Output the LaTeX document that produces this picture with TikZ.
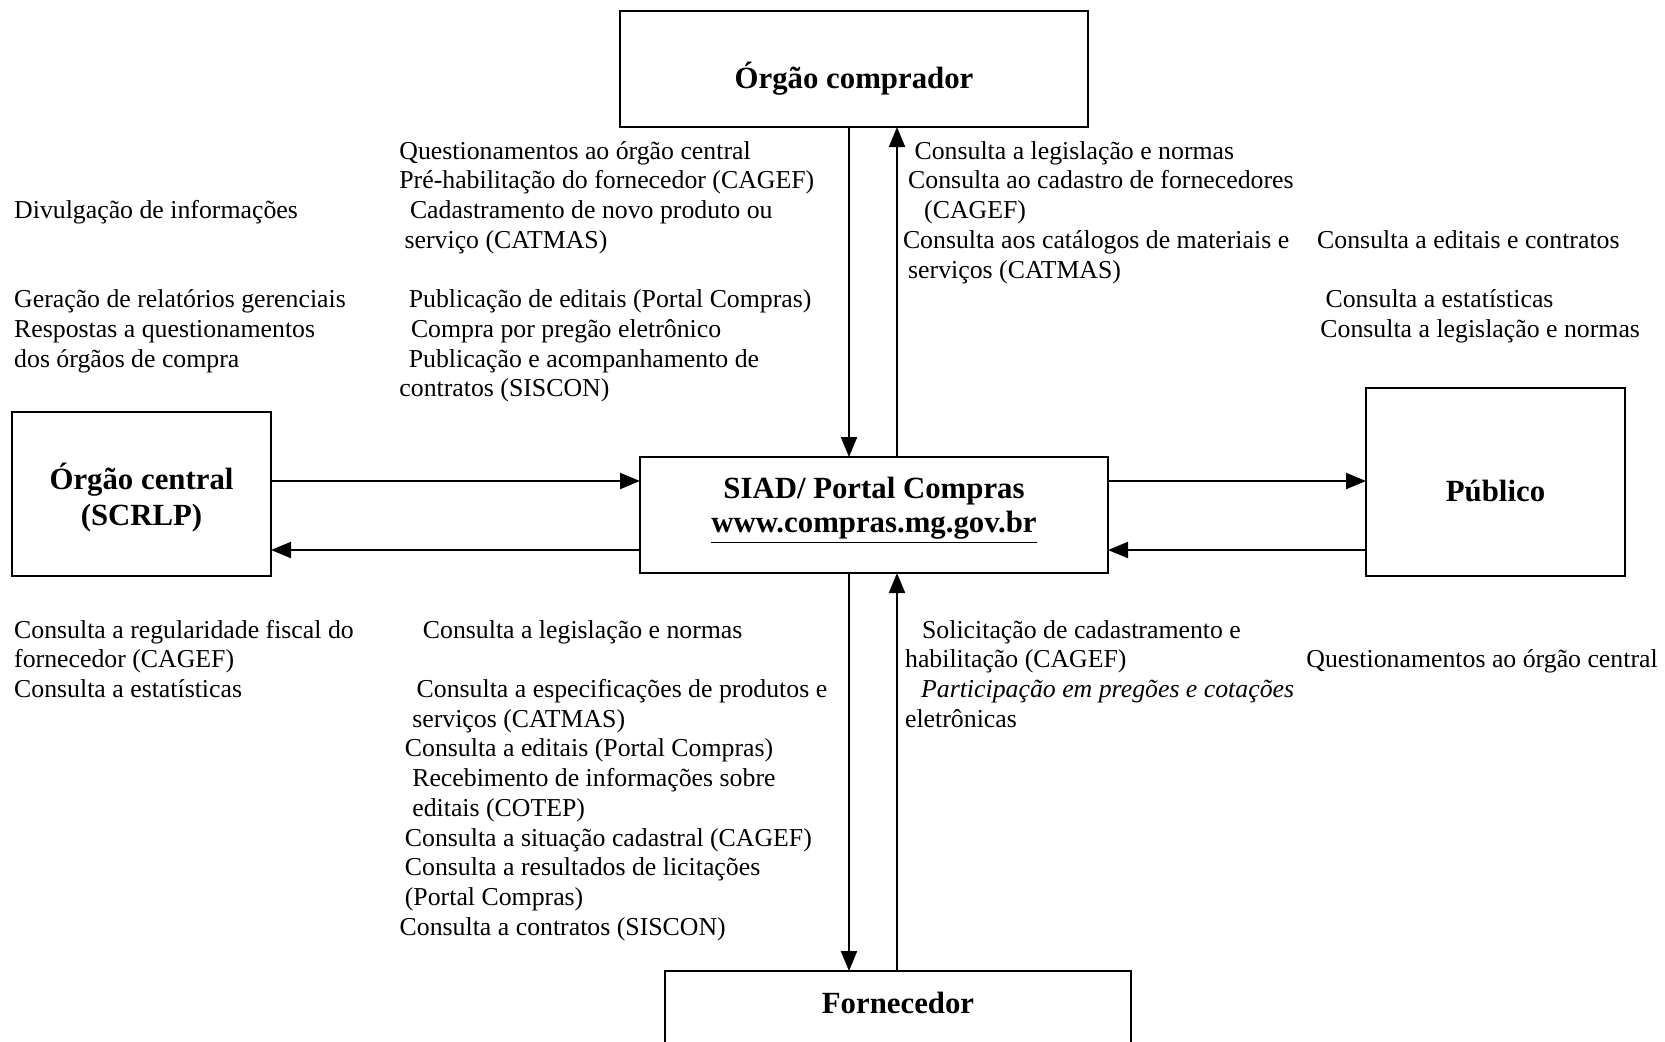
\documentclass[tikz,border=0pt]{standalone}
\usepackage{fontspec}
\setmainfont{Liberation Serif}
\usetikzlibrary{arrows.meta}
\begin{document}
\begin{tikzpicture}[x=0.5pt,y=-0.5pt,
  box/.style={draw,line width=1.2pt,inner sep=0pt,outer sep=0pt},
  lbl/.style={font=\fontsize{15.4}{18}\selectfont\bfseries,align=center,inner sep=0pt},
  txt/.style={font=\fontsize{12.9}{14.85}\selectfont,align=left,inner sep=0pt,anchor=base west},
  arr/.style={line width=1pt,-{Triangle[length=10pt,width=8pt]}}]
\useasboundingbox (0,0) rectangle (1665,1041);
\fill[white] (0,0) rectangle (1665,1041);
% boxes
\node[box,minimum width=234pt,minimum height=58pt] (comp) at (854,69) {};
\node[lbl] (complbl) at (854,79) {Órgão comprador};
\node[box,minimum width=234pt,minimum height=58pt] (siad) at (874,515) {};
\node[lbl] (siadlbl) at (874,510) {SIAD/ Portal Compras\\[-1pt]\underline{www.compras.mg.gov.br}};
\node[box,minimum width=129.5pt,minimum height=82pt] (central) at (141.5,494) {};
\node[lbl] (centrallbl) at (141.5,497.5) {Órgão central\\(SCRLP)};
\node[box,minimum width=129.5pt,minimum height=94pt] (pub) at (1495.5,482) {};
\node[lbl] (publbl) at (1495.5,491) {Público};
\node[box,minimum width=233pt,minimum height=60pt] (forn) at (898,1031) {};
\node[lbl] (fornlbl) at (898,1003) {Fornecedor};
% helper coordinates
\coordinate (xa) at (849,0);
\coordinate (xb) at (897,0);
\coordinate (ya) at (0,481);
\coordinate (yb) at (0,550);
% connectors
\draw[arr] (comp.south -| xa) -- (siad.north -| xa);
\draw[arr] (siad.north -| xb) -- (comp.south -| xb);
\draw[arr] (siad.south -| xa) -- (forn.north -| xa);
\draw[arr] (forn.north -| xb) -- (siad.south -| xb);
\draw[arr] (central.east |- ya) -- (siad.west |- ya);
\draw[arr] (siad.west |- yb) -- (central.east |- yb);
\draw[arr] (siad.east |- ya) -- (pub.west |- ya);
\draw[arr] (pub.west |- yb) -- (siad.east |- yb);
% text blocks (anchored at the baseline of their last line)
\node[txt] (ta) at (399,396.8) {Questionamentos ao órgão central\\
Pré-habilitação do fornecedor (CAGEF)\\
\hspace*{5.3pt}Cadastramento de novo produto ou\\
\hspace*{2.6pt}serviço (CATMAS)\\
\mbox{}\\
\hspace*{4.7pt}Publicação de editais (Portal Compras)\\
\hspace*{5.8pt}Compra por pregão eletrônico\\
\hspace*{4.7pt}Publicação e acompanhamento de\\
contratos (SISCON)};
\node[txt] (tb) at (902.6,278) {\hspace*{5.8pt}Consulta a legislação e normas\\
\hspace*{2.6pt}Consulta ao cadastro de fornecedores\\
\hspace*{10.6pt}(CAGEF)\\
Consulta aos catálogos de materiais e\\
\hspace*{2.6pt}serviços (CATMAS)};
\node[txt] (tc) at (13.8,367.2) {Divulgação de informações\\
\mbox{}\\
\mbox{}\\
Geração de relatórios gerenciais\\
Respostas a questionamentos\\
dos órgãos de compra};
\node[txt] (td) at (1316.8,337.5) {Consulta a editais e contratos\\
\mbox{}\\
\hspace*{4.2pt}Consulta a estatísticas\\
\hspace*{1.6pt}Consulta a legislação e normas};
\node[txt] (te) at (13.8,697.5) {Consulta a regularidade fiscal do\\
fornecedor (CAGEF)\\
Consulta a estatísticas};
\node[txt] (tf) at (399.3,935.1) {\hspace*{11.6pt}Consulta a legislação e normas\\
\mbox{}\\
\hspace*{8.5pt}Consulta a especificações de produtos e\\
\hspace*{6.3pt}serviços (CATMAS)\\
\hspace*{2.6pt}Consulta a editais (Portal Compras)\\
\hspace*{6.3pt}Recebimento de informações sobre\\
\hspace*{6.3pt}editais (COTEP)\\
\hspace*{2.6pt}Consulta a situação cadastral (CAGEF)\\
\hspace*{2.6pt}Consulta a resultados de licitações\\
\hspace*{2.6pt}(Portal Compras)\\
Consulta a contratos (SISCON)};
\node[txt] (tg) at (904.7,727.2) {\hspace*{8.5pt}Solicitação de cadastramento e\\
habilitação (CAGEF)\\
\hspace*{8pt}\textit{Participação em pregões e cotações}\\
eletrônicas};
\node[txt] (th) at (1306,667.9) {Questionamentos ao órgão central};
\end{tikzpicture}
\end{document}
